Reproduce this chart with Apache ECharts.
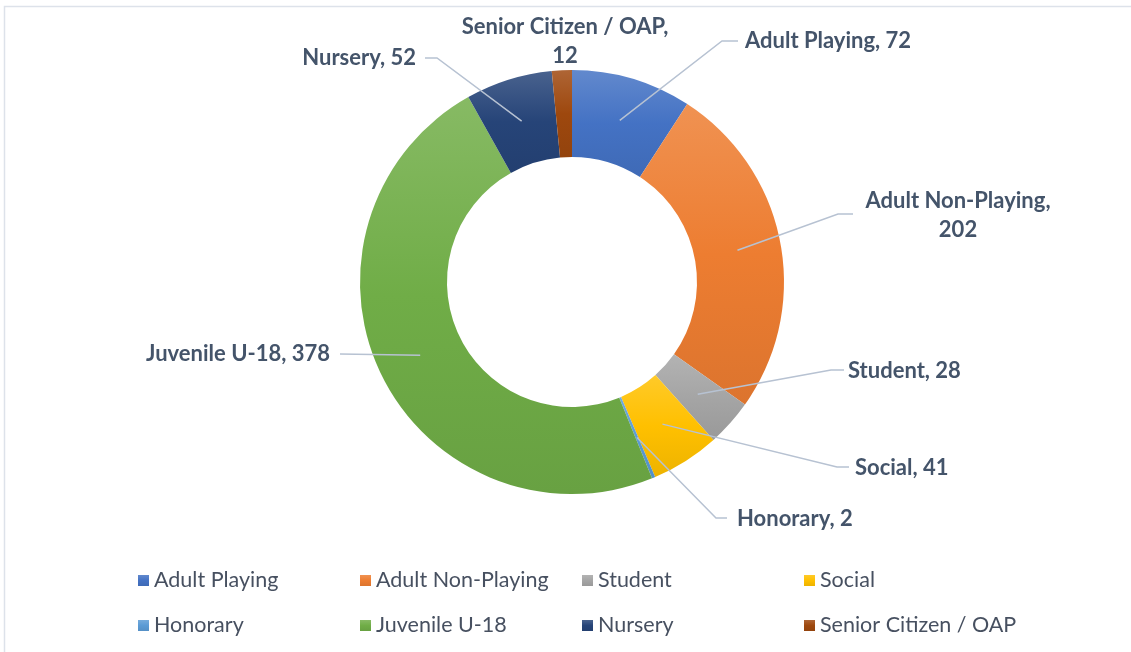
<!DOCTYPE html>
<html>
<head>
<meta charset="utf-8">
<script src="https://cdn.jsdelivr.net/npm/echarts@6/dist/echarts.min.js"></script>
<style>
  html, body { margin: 0; padding: 0; background: #fff; }
  #main { width: 1131px; height: 652px; }
</style>
</head>
<body>
<div id="main"></div>
<script>
// membership categories and counts
const categories = ['Adult Playing', 'Adult Non-Playing', 'Student', 'Social',
  'Honorary', 'Juvenile U-18', 'Nursery', 'Senior Citizen / OAP'];
const counts = [72, 202, 28, 41, 2, 378, 52, 12];
const baseColors = ['#4472C4', '#ED7D31', '#A5A5A5', '#FFC000',
  '#5B9BD5', '#70AD47', '#264478', '#9E480E'];

// where each data label sits: [x, y, align, lineEndX, lineEndY, elbowX]
const labelSpots = [
  [745, 41, 'left', 738, 41, 722],
  [958, 215, 'center', 853, 214, 838],
  [848, 371, 'left', 844, 370, 831],
  [855, 468, 'left', 849, 467, 837],
  [737, 519, 'left', 727, 518, 716],
  [330, 354, 'right', 340, 354, 340],
  [416, 58, 'right', 425, 58, 437],
  [565, 41, 'center', null, null, null]
];

const cx = 572, cy = 282, rIn = 125, rOut = 212;

function mix(hex, target, t) {
  const n = parseInt(hex.slice(1), 16);
  const c = [(n >> 16) & 255, (n >> 8) & 255, n & 255];
  const r = c.map(v => Math.round(v + (target - v) * t));
  return 'rgb(' + r.join(',') + ')';
}

// office style gradient, lighter on top of each slice
function grad(hex) {
  return new echarts.graphic.LinearGradient(0, 0, 0, 1, [
    { offset: 0, color: mix(hex, 255, 0.16) },
    { offset: 0.5, color: hex },
    { offset: 1, color: mix(hex, 0, 0.07) }
  ]);
}

const chart = echarts.init(document.getElementById('main'));

const option = {
  animation: false,
  graphic: [{
    type: 'rect',
    shape: { x: 4.5, y: 6.5, width: 1200, height: 700 },
    style: { fill: 'none', stroke: '#dde2ea', lineWidth: 1.5 },
    silent: true
  }],
  legend: {
    left: 133,
    top: 556,
    width: 940,
    itemWidth: 11,
    itemHeight: 11,
    itemGap: 6,
    icon: 'rect',
    textStyle: {
      fontFamily: 'Lato',
      fontSize: 21.5,
      color: '#475060',
      width: 200,
      overflow: 'truncate',
      lineHeight: 39
    },
    data: categories
  },
  series: [{
    // the rings themselves
    type: 'pie',
    center: [cx, cy],
    radius: [rIn, rOut],
    startAngle: 90,
    clockwise: true,
    label: { show: false },
    labelLine: { show: false },
    data: categories.map((name, i) => ({
      name: name,
      value: counts[i],
      itemStyle: { color: grad(baseColors[i]) }
    }))
  }, {
    // transparent copy on top, carries labels and leader lines
    type: 'pie',
    z: 5,
    silent: true,
    center: [cx, cy],
    radius: [rIn, rOut],
    startAngle: 90,
    clockwise: true,
    avoidLabelOverlap: false,
    itemStyle: { color: 'rgba(0,0,0,0)' },
    data: categories.map((name, i) => ({ name: name, value: counts[i] })),
    label: {
      show: true,
      formatter: p => p.dataIndex === 1 ? 'Adult Non-Playing,\n202'
        : p.dataIndex === 7 ? 'Senior Citizen / OAP,\n12'
        : p.name + ', ' + p.value,
      fontFamily: 'Lato',
      fontWeight: 'bold',
      fontSize: 22,
      lineHeight: 29,
      color: '#44546A'
    },
    labelLine: {
      show: true,
      lineStyle: { color: '#b7c2d2', width: 1.5 }
    },
    labelLayout: function (params) {
      const s = labelSpots[params.dataIndex];
      const res = { x: s[0], y: s[1], align: s[2], verticalAlign: 'middle' };
      const p = params.labelLinePoints;
      if (p && s[3] != null) {
        const k = (rIn + rOut) / 2 / rOut;
        const start = [cx + (p[0][0] - cx) * k, cy + (p[0][1] - cy) * k];
        res.labelLinePoints = [start, [s[5], s[4]], [s[3], s[4]]];
      } else if (p) {
        res.labelLinePoints = [[s[0], s[1]], [s[0], s[1]], [s[0], s[1]]];
      }
      return res;
    }
  }]
};

chart.setOption(option);
</script>
</body>
</html>
